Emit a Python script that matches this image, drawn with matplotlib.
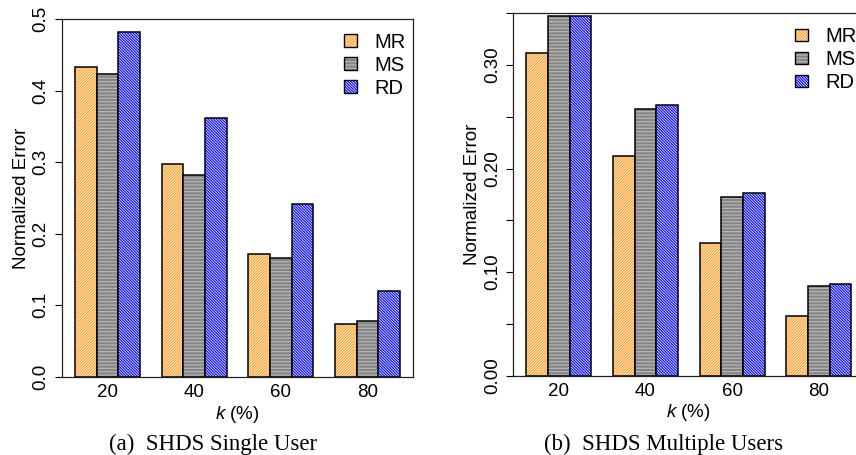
import matplotlib
matplotlib.use('Agg')
import matplotlib.pyplot as plt
import matplotlib.patches as mpatches
import numpy as np

# ---------------- data ----------------
k_labels = ['20', '40', '60', '80']
series_names = ['MR', 'MS', 'RD']

single_mr = [0.433, 0.297, 0.172, 0.074]
single_ms = [0.423, 0.282, 0.166, 0.078]
single_rd = [0.482, 0.362, 0.241, 0.120]

multi_mr = [0.312, 0.212, 0.128, 0.058]
multi_ms = [0.347, 0.258, 0.173, 0.087]
multi_rd = [0.347, 0.261, 0.176, 0.089]

single_yticks = [0.0, 0.1, 0.2, 0.3, 0.4, 0.5]
single_yticklabels = ['0.0', '0.1', '0.2', '0.3', '0.4', '0.5']
multi_yticks = [0.0, 0.05, 0.10, 0.15, 0.20, 0.25, 0.30, 0.35]
multi_yticklabels = ['0.00', '', '0.10', '', '0.20', '', '0.30', '']

captions = ['(a)  SHDS Single User', '(b)  SHDS Multiple Users']

# ---------------- style ----------------
plt.rcParams['font.family'] = ['Liberation Sans', 'DejaVu Sans']
plt.rcParams['mathtext.fontset'] = 'custom'
plt.rcParams['mathtext.rm'] = 'Liberation Sans'
plt.rcParams['mathtext.it'] = 'Liberation Sans:italic'
plt.rcParams['hatch.linewidth'] = 0.9

styles = [
    dict(face='white', hcolor='#FFA030', hatch='/' * 12),
    dict(face='#858585', hcolor='#b5b5b5', hatch='-' * 5),
    dict(face='white', hcolor='#0f0fff', hatch='\\' * 12),
]

FS = 13.5
W, H = 856, 455
fig = plt.figure(figsize=(W / 100, H / 100), dpi=100)

ax1 = fig.add_axes([62 / W, (H - 377) / H, 351 / W, 358 / H])
ax2 = fig.add_axes([513.3 / W, (H - 375.7) / H, 351 / W, 362.4 / H])


def draw(ax, values, ymax, yticks, yticklabels):
    n = len(k_labels)
    for s, (vals, st) in enumerate(zip(values, styles)):
        x = np.arange(n) * 4 + 1.5 + s
        ax.bar(x, vals, width=1.0, color=st['face'], edgecolor=st['hcolor'],
               hatch=st['hatch'], linewidth=0)
        ax.bar(x, vals, width=1.0, fill=False, edgecolor='black', linewidth=1.1)
    ax.set_xlim(0.4, 16.6)
    ax.set_ylim(0, ymax)
    ax.set_xticks(np.arange(n) * 4 + 2.5)
    ax.set_xticklabels(k_labels, fontsize=FS)
    ax.tick_params(axis='x', length=0, pad=5)
    ax.set_yticks(yticks)
    ax.set_yticklabels(yticklabels, fontsize=FS, rotation=90, va='center')
    ax.tick_params(axis='y', length=5, width=0.8, pad=4)
    for sp in ax.spines.values():
        sp.set_linewidth(0.9)
        sp.set_color('#222222')
    ax.set_xlabel(r'$\mathit{k}$ (%)', fontsize=FS, labelpad=2)
    ax.set_ylabel('Normalized Error', fontsize=FS, labelpad=2)
    handles = []
    for st in styles:
        h1 = mpatches.Patch(facecolor=st['face'], edgecolor=st['hcolor'],
                            hatch=st['hatch'], linewidth=0)
        h2 = mpatches.Patch(fill=False, edgecolor='black', linewidth=1.0)
        handles.append((h1, h2))
    ax.legend(handles, series_names, loc='upper left',
              bbox_to_anchor=(0.803, 0.962), borderaxespad=0, borderpad=0,
              frameon=False, fontsize=14.5, handlelength=0.65, handleheight=0.55,
              handletextpad=0.85, labelspacing=0.2)


draw(ax1, [single_mr, single_ms, single_rd], 0.5, single_yticks, single_yticklabels)
draw(ax2, [multi_mr, multi_ms, multi_rd], 0.35, multi_yticks, multi_yticklabels)

fig.text(213.5 / W, 5 / H, captions[0], family='Liberation Serif',
         fontsize=16.5, ha='center', va='baseline')
fig.text(663.5 / W, 5 / H, captions[1], family='Liberation Serif',
         fontsize=16.5, ha='center', va='baseline')

fig.savefig('out.png', dpi=100)
